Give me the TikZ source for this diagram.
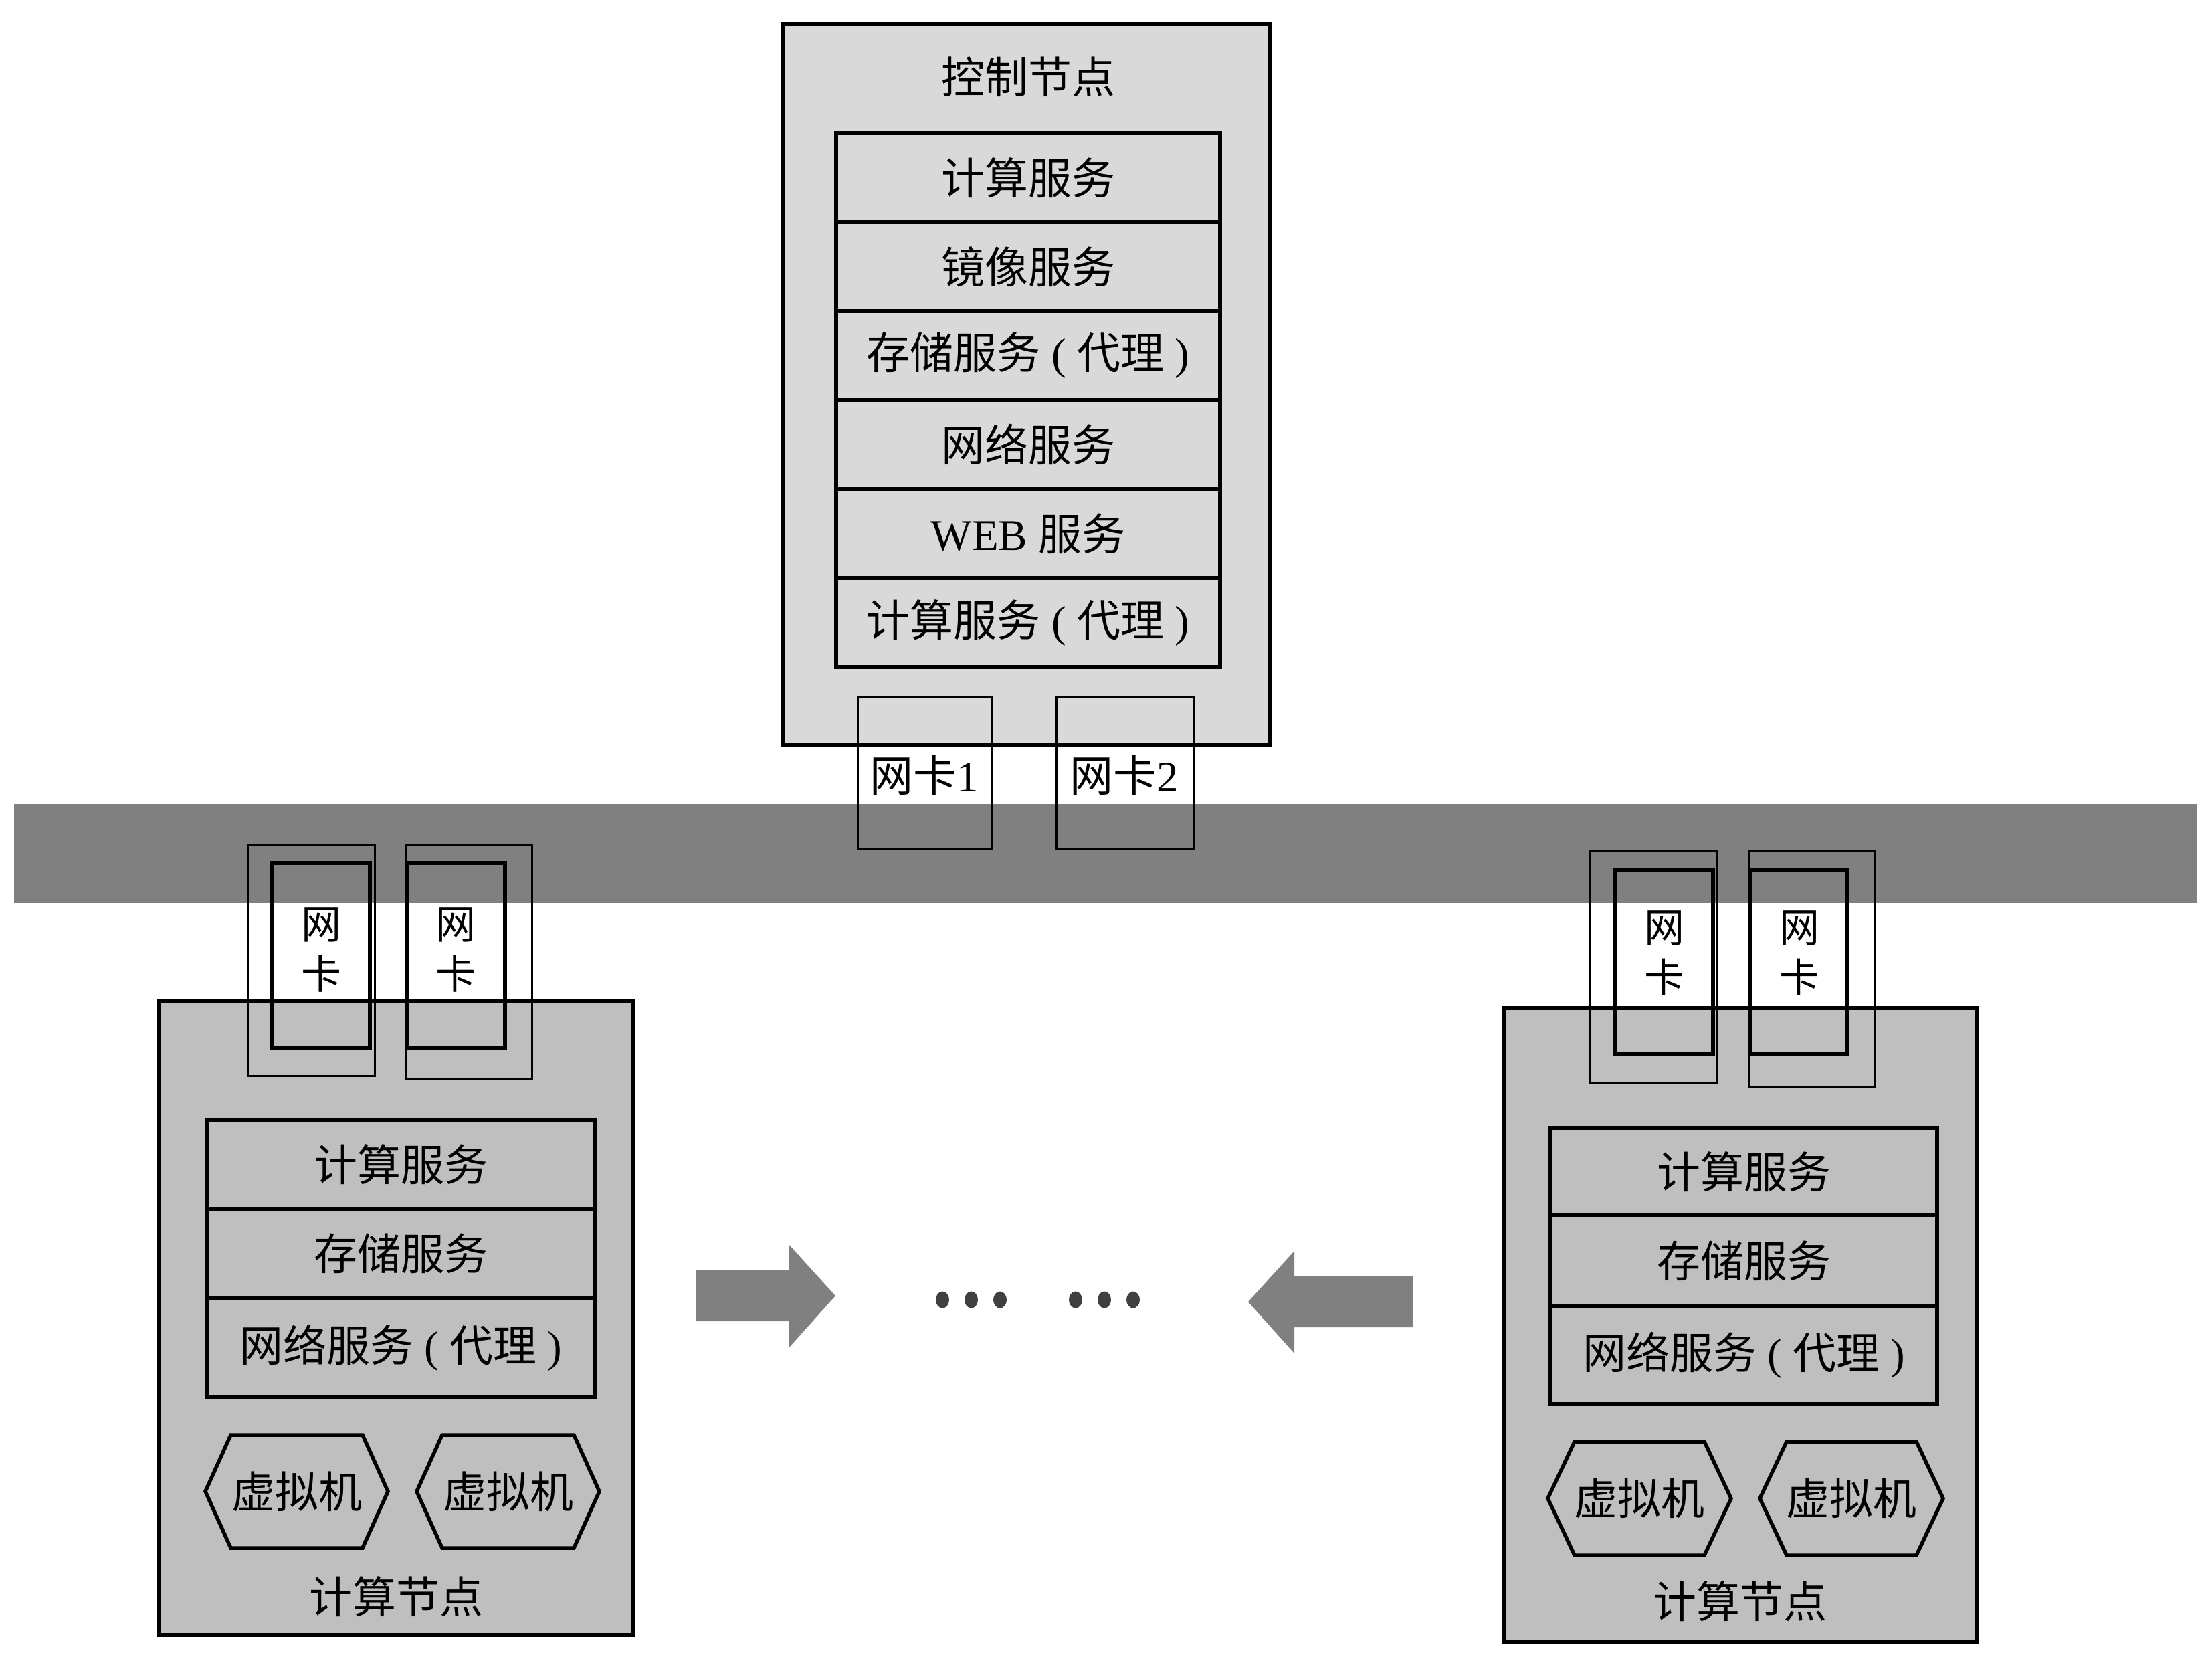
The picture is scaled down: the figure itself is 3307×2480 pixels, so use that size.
\documentclass[tikz,border=0pt]{standalone}
\usepackage{fontspec}
\setmainfont{Liberation Serif}
\newfontfamily\cjk{Noto Sans CJK SC}
\definecolor{busgray}{RGB}{128,128,128}
\definecolor{ctrlgray}{RGB}{217,217,217}
\definecolor{hostgray}{RGB}{191,191,191}
\definecolor{dotgray}{RGB}{64,64,64}
\tikzset{
  lbl/.style={inner sep=0pt,outer sep=0pt,text=black,font=\fontsize{13}{15.6}\selectfont},
  niclbl/.style={inner sep=0pt,outer sep=0pt,text=black,align=center,font=\cjk\fontsize{12}{15}\selectfont},
  thickbox/.style={draw=black,line width=1.1pt},
  thinbox/.style={draw=black,line width=0.6pt,fill=none},
  bigarrow/.style={fill=busgray,draw=none},
}
\begin{document}
\begin{tikzpicture}[x=.2pt,y=-.2pt]
\path[use as bounding box] (0,0) rectangle (3307,2480);
% network bus
\path[fill=busgray] (21,1202) rectangle (3284,1350);
% control node
\path[fill=ctrlgray,thickbox] (1170,36) rectangle (1899,1113);
\node[lbl] (ctrltitle) at (1537,115) {\cjk 控制节点};
\path[fill=ctrlgray,thickbox] (1250,199) rectangle (1824,332);
\node[lbl] (ctrlsvc1) at (1537,265.5) {\cjk 计算服务};
\path[fill=ctrlgray,thickbox] (1250,332) rectangle (1824,465);
\node[lbl] (ctrlsvc2) at (1537,398.5) {\cjk 镜像服务};
\path[fill=ctrlgray,thickbox] (1250,465) rectangle (1824,598);
\node[lbl] (ctrlsvc3) at (1537,531.5) {{\cjk 存储服务} ( {\cjk 代理} )};
\path[fill=ctrlgray,thickbox] (1250,598) rectangle (1824,731);
\node[lbl] (ctrlsvc4) at (1537,664.5) {\cjk 网络服务};
\path[fill=ctrlgray,thickbox] (1250,731) rectangle (1824,864);
\node[lbl] (ctrlsvc5) at (1537,797.5) {WEB {\cjk 服务}};
\path[fill=ctrlgray,thickbox] (1250,864) rectangle (1824,997);
\node[lbl] (ctrlsvc6) at (1537,930.5) {{\cjk 计算服务} ( {\cjk 代理} )};
\path[thinbox] (1282,1041) rectangle (1483,1268);
\node[lbl] (ctrlnic1) at (1382,1159) {{\cjk 网卡}1};
\path[thinbox] (1579,1041) rectangle (1784,1268);
\node[lbl] (ctrlnic2) at (1681,1159) {{\cjk 网卡}2};
% left compute node
\path[fill=hostgray,thickbox] (238,1497) rectangle (946,2444);
\path[fill=hostgray,thickbox] (310,1674) rectangle (889,1807);
\node[lbl] (lsvc1) at (599.5,1740.5) {\cjk 计算服务};
\path[fill=hostgray,thickbox] (310,1807) rectangle (889,1941);
\node[lbl] (lsvc2) at (599.5,1874) {\cjk 存储服务};
\path[fill=hostgray,thickbox] (310,1941) rectangle (889,2088);
\node[lbl] (lsvc3) at (599.5,2014.5) {{\cjk 网络服务} ( {\cjk 代理} )};
\path[fill=hostgray,thickbox] (345,2145) -- (542,2145) -- (580,2229.5) -- (542,2314) -- (345,2314) -- (307,2229.5) -- cycle;
\node[lbl] (lvm1) at (443.5,2229.5) {\cjk 虚拟机};
\path[fill=hostgray,thickbox] (661,2145) -- (858,2145) -- (896,2229.5) -- (858,2314) -- (661,2314) -- (623,2229.5) -- cycle;
\node[lbl] (lvm2) at (759.5,2229.5) {\cjk 虚拟机};
\node[lbl] (lhost) at (592,2387) {\cjk 计算节点};
\path[thinbox] (370,1262) rectangle (560,1608);
\path[thickbox] (407,1290) rectangle (553,1566);
\node[niclbl] (lnic1) at (480,1420) {网\\卡};
\path[thinbox] (606,1262) rectangle (795,1612);
\path[thickbox] (608,1290) rectangle (755,1566);
\node[niclbl] (lnic2) at (681,1420) {网\\卡};
% right compute node
\path[fill=hostgray,thickbox] (2248,1507) rectangle (2955,2455);
\path[fill=hostgray,thickbox] (2318,1686) rectangle (2896,1817);
\node[lbl] (rsvc1) at (2607,1751.5) {\cjk 计算服务};
\path[fill=hostgray,thickbox] (2318,1817) rectangle (2896,1953);
\node[lbl] (rsvc2) at (2607,1885) {\cjk 存储服务};
\path[fill=hostgray,thickbox] (2318,1953) rectangle (2896,2099);
\node[lbl] (rsvc3) at (2607,2026) {{\cjk 网络服务} ( {\cjk 代理} )};
\path[fill=hostgray,thickbox] (2354,2155) -- (2548,2155) -- (2588,2240) -- (2548,2325) -- (2354,2325) -- (2314,2240) -- cycle;
\node[lbl] (rvm1) at (2451,2240) {\cjk 虚拟机};
\path[fill=hostgray,thickbox] (2671,2155) -- (2865,2155) -- (2905,2240) -- (2865,2325) -- (2671,2325) -- (2631,2240) -- cycle;
\node[lbl] (rvm2) at (2768,2240) {\cjk 虚拟机};
\node[lbl] (rhost) at (2601,2394) {\cjk 计算节点};
\path[thinbox] (2377,1272) rectangle (2567,1619);
\path[thickbox] (2414,1300) rectangle (2561,1575);
\node[niclbl] (rnic1) at (2488,1425) {网\\卡};
\path[thinbox] (2615,1272) rectangle (2803,1625);
\path[thickbox] (2617,1300) rectangle (2762,1575);
\node[niclbl] (rnic2) at (2690,1425) {网\\卡};
% arrows and dots
\path[bigarrow] (1040,1899) -- (1180,1899) -- (1180,1861) -- (1249,1937) -- (1180,2014) -- (1180,1975) -- (1040,1975) -- cycle;
\path[bigarrow] (2112,1908) -- (1935,1908) -- (1935,1870) -- (1866,1946) -- (1935,2023) -- (1935,1984) -- (2112,1984) -- cycle;
\fill[dotgray] (1409,1943) ellipse [x radius=2pt,y radius=2.5pt];
\fill[dotgray] (1452,1943) ellipse [x radius=2pt,y radius=2.5pt];
\fill[dotgray] (1495,1943) ellipse [x radius=2pt,y radius=2.5pt];
\fill[dotgray] (1608,1943) ellipse [x radius=2pt,y radius=2.5pt];
\fill[dotgray] (1651,1943) ellipse [x radius=2pt,y radius=2.5pt];
\fill[dotgray] (1694,1943) ellipse [x radius=2pt,y radius=2.5pt];
\end{tikzpicture}
\end{document}
